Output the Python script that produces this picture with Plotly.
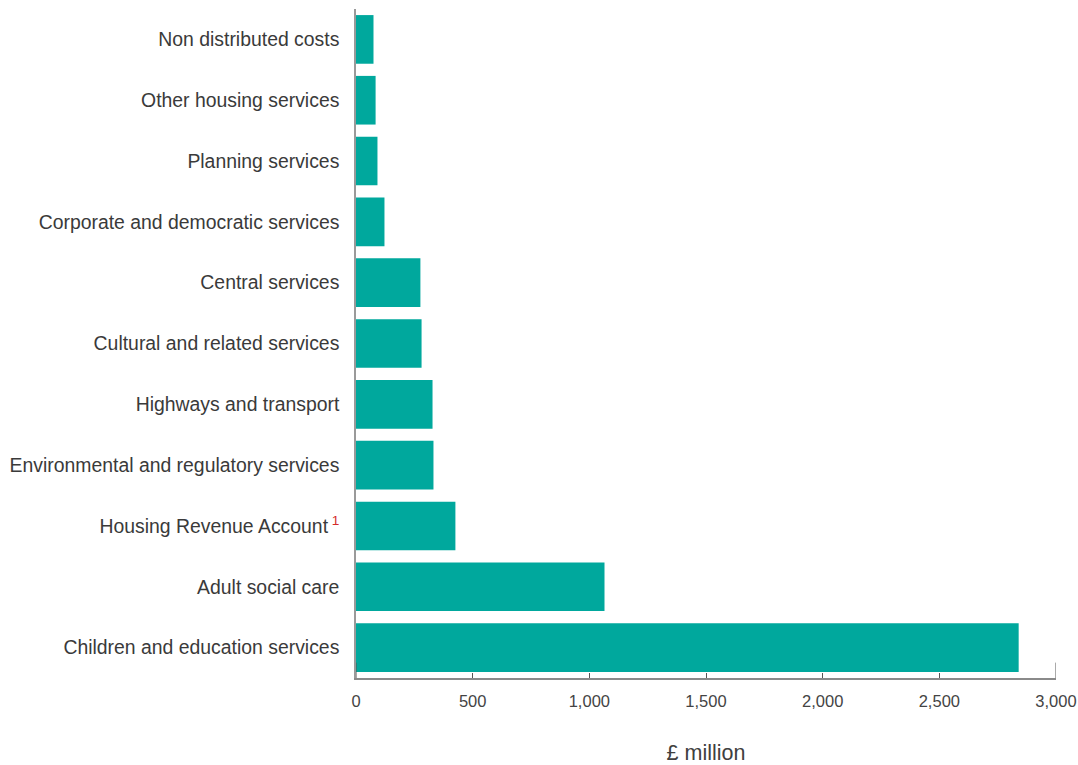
import plotly.graph_objects as go

categories = [
    "Non distributed costs",
    "Other housing services",
    "Planning services",
    "Corporate and democratic services",
    "Central services",
    "Cultural and related services",
    "Highways and transport",
    "Environmental and regulatory services",
    "Housing Revenue Account",
    "Adult social care",
    "Children and education services",
]
values = [75, 84, 92, 122, 276, 281, 328, 332, 426, 1065, 2840]
footnotes = {"Housing Revenue Account": "1"}
x_ticks = [0, 500, 1000, 1500, 2000, 2500, 3000]
x_title = "£ million"

labels = []
for c in categories:
    if c in footnotes:
        labels.append(c + "<sup><span style='color:#d42a2a'> " + footnotes[c] + "</span></sup>")
    else:
        labels.append(c)

fig = go.Figure(
    go.Bar(
        x=values,
        y=labels,
        orientation="h",
        marker=dict(color="#00A89D", line=dict(width=0)),
        hoverinfo="x+y",
    )
)

fig.update_layout(
    width=1078,
    height=765,
    margin=dict(l=356, r=22, t=9, b=87, autoexpand=False),
    paper_bgcolor="white",
    plot_bgcolor="white",
    bargap=0.2,
    showlegend=False,
    font=dict(family="Liberation Sans, Arial, sans-serif", color="#404040"),
)

fig.update_yaxes(
    autorange="reversed",
    showline=True,
    linecolor="#9a9a9a",
    linewidth=1.5,
    showgrid=False,
    ticks="",
    ticklabelstandoff=11,
    tickfont=dict(size=19.4, color="#3a3a3a"),
    zeroline=False,
)

fig.update_xaxes(
    range=[0, 3000],
    tickvals=x_ticks,
    tickformat=",",
    showline=True,
    linecolor="#8a8a8a",
    linewidth=1.5,
    ticks="inside",
    ticklen=5,
    tickcolor="#555555",
    tickwidth=1,
    showgrid=False,
    zeroline=False,
    tickfont=dict(size=16.5, color="#444444"),
    ticklabelstandoff=7,
    ticklabeloverflow="allow",
    title=dict(text=x_title, font=dict(size=21.5, color="#404040"), standoff=44),
)

for xv in (x_ticks[0], x_ticks[-1]):
    fig.add_shape(
        type="line",
        xref="x",
        yref="paper",
        x0=xv,
        x1=xv,
        y0=0,
        y1=0.023,
        line=dict(color="#555555", width=1),
    )

fig.write_html(
    "out.html",
    config={"displayModeBar": False},
    post_script="document.body.style.margin='0px';document.body.style.overflow='hidden';",
)
